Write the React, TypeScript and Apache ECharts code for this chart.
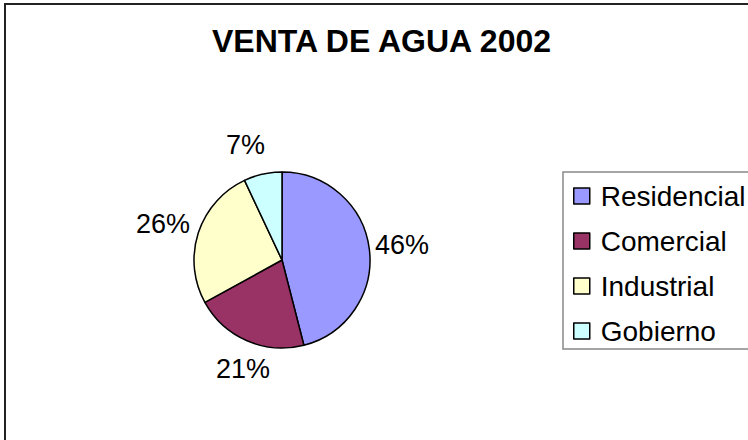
import React, { useEffect, useRef } from "react";
import * as echarts from "echarts";

const titleText = "VENTA DE AGUA 2002";
const categories = ["Residencial", "Comercial", "Industrial", "Gobierno"];
const values = [46, 21, 26, 7];
const colors = ["#9999FF", "#993366", "#FFFFCC", "#CCFFFF"];

const labelNudge: Record<string, number[]> = {
  Comercial: [9, -2],
  Gobierno: [-10, 3],
  Industrial: [-4, 1],
};

export default function App() {
  const ref = useRef<HTMLDivElement>(null);
  useEffect(() => {
    if (!ref.current) return;
    const chart = echarts.init(ref.current, null, { renderer: "svg" });
    const data = categories.map((name, i) => ({ name, value: values[i] }));
    const labelData = data.map((d) => ({
      ...d,
      label: labelNudge[d.name] ? { offset: labelNudge[d.name] } : undefined,
    }));
    chart.setOption({
      animation: false,
      backgroundColor: "#ffffff",
      color: colors,
      title: {
        text: titleText,
        left: 212,
        top: 25,
        padding: 0,
        textStyle: {
          fontFamily: "Liberation Sans, Arial, sans-serif",
          fontSize: 32,
          fontWeight: "bold",
          color: "#000",
        },
      },
      legend: {
        orient: "vertical",
        left: 573,
        top: 182,
        padding: 0,
        itemWidth: 16,
        itemHeight: 16,
        itemGap: 17,
        icon: "rect",
        data: categories,
        itemStyle: { borderColor: "#000", borderWidth: 1.5 },
        textStyle: {
          fontFamily: "Liberation Sans, Arial, sans-serif",
          fontSize: 28,
          lineHeight: 28,
          color: "#000",
          padding: [0, 0, 0, 6],
        },
      },
      graphic: [
        {
          type: "rect",
          shape: { x: 5, y: 4, width: 800, height: 500 },
          style: { fill: "none", stroke: "#222", lineWidth: 2 },
          z: -1,
        },
        {
          type: "rect",
          shape: { x: 563, y: 172, width: 300, height: 177 },
          style: { fill: "none", stroke: "#888", lineWidth: 1.5 },
          z: -1,
        },
      ],
      series: [
        {
          type: "pie",
          center: [282, 260],
          radius: [0, 88],
          startAngle: 90,
          clockwise: true,
          data,
          label: { show: false },
          labelLine: { show: false },
          itemStyle: { borderColor: "#000", borderWidth: 1.5 },
          emphasis: { disabled: true },
        },
        {
          type: "pie",
          center: [282, 260],
          radius: [0, 236],
          startAngle: 90,
          clockwise: true,
          silent: true,
          legendHoverLink: false,
          data: labelData,
          itemStyle: { color: "rgba(0,0,0,0)", borderWidth: 0 },
          label: {
            show: true,
            position: "inside",
            formatter: "{d}%",
            fontFamily: "Liberation Sans, Arial, sans-serif",
            fontSize: 27,
            color: "#000",
          },
          labelLine: { show: false },
          emphasis: { disabled: true },
          z: 1,
        },
      ],
    });
    return () => chart.dispose();
  }, []);
  return (
    <div
      ref={ref}
      style={{ position: "absolute", left: 0, top: 0, width: 748, height: 440 }}
    />
  );
}
